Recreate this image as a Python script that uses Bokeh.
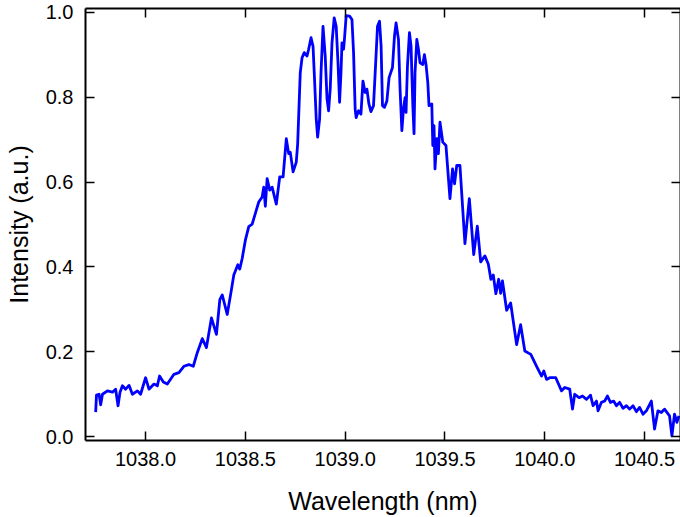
from bokeh.plotting import figure
from bokeh.models import Range1d, LinearAxis, FixedTicker, NumeralTickFormatter
from bokeh.embed import file_html
from bokeh.resources import INLINE

# spectrum
wavelength = [
    1037.750, 1037.754, 1037.767, 1037.775, 1037.784, 1037.809, 1037.834, 1037.850,
    1037.862, 1037.872, 1037.884, 1037.900, 1037.917, 1037.934, 1037.959, 1037.975,
    1038.000, 1038.017, 1038.042, 1038.059, 1038.070, 1038.089, 1038.109, 1038.142,
    1038.167, 1038.192, 1038.217, 1038.239, 1038.259, 1038.284, 1038.305, 1038.330,
    1038.355, 1038.372, 1038.384, 1038.409, 1038.430, 1038.442, 1038.462, 1038.472,
    1038.484, 1038.500, 1038.517, 1038.534, 1038.550, 1038.567, 1038.584, 1038.592,
    1038.600, 1038.609, 1038.622, 1038.634, 1038.655, 1038.672, 1038.689, 1038.705,
    1038.717, 1038.725, 1038.739, 1038.755, 1038.762, 1038.775, 1038.784, 1038.795,
    1038.809, 1038.817, 1038.829, 1038.839, 1038.845, 1038.855, 1038.862, 1038.872,
    1038.879, 1038.889, 1038.900, 1038.909, 1038.917, 1038.925, 1038.934, 1038.945,
    1038.955, 1038.964, 1038.972, 1038.979, 1038.984, 1038.992, 1038.997, 1039.005,
    1039.022, 1039.034, 1039.042, 1039.050, 1039.055, 1039.067, 1039.079, 1039.089,
    1039.100, 1039.109, 1039.119, 1039.129, 1039.142, 1039.152, 1039.162, 1039.172,
    1039.180, 1039.187, 1039.197, 1039.209, 1039.220, 1039.237, 1039.247, 1039.255,
    1039.267, 1039.275, 1039.284, 1039.292, 1039.300, 1039.305, 1039.312, 1039.322,
    1039.330, 1039.339, 1039.345, 1039.350, 1039.359, 1039.367, 1039.375, 1039.389,
    1039.397, 1039.405, 1039.414, 1039.420, 1039.434, 1039.439, 1039.445, 1039.450,
    1039.459, 1039.467, 1039.475, 1039.489, 1039.505, 1039.525, 1039.538, 1039.548,
    1039.559, 1039.575, 1039.600, 1039.622, 1039.644, 1039.662, 1039.679, 1039.700,
    1039.717, 1039.730, 1039.742, 1039.755, 1039.769, 1039.779, 1039.788, 1039.809,
    1039.829, 1039.859, 1039.879, 1039.900, 1039.930, 1039.959, 1039.984, 1039.995,
    1040.009, 1040.025, 1040.055, 1040.084, 1040.100, 1040.125, 1040.139, 1040.150,
    1040.172, 1040.189, 1040.209, 1040.229, 1040.242, 1040.259, 1040.267, 1040.284,
    1040.300, 1040.314, 1040.329, 1040.345, 1040.359, 1040.375, 1040.392, 1040.409,
    1040.425, 1040.442, 1040.459, 1040.475, 1040.492, 1040.509, 1040.534, 1040.550,
    1040.567, 1040.584, 1040.600, 1040.625, 1040.637, 1040.650, 1040.662, 1040.672,
]
intensity = [
    0.058, 0.098, 0.100, 0.075, 0.100, 0.108, 0.105, 0.112,
    0.073, 0.105, 0.120, 0.112, 0.121, 0.100, 0.108, 0.100,
    0.139, 0.112, 0.124, 0.120, 0.143, 0.129, 0.124, 0.147,
    0.151, 0.166, 0.170, 0.166, 0.198, 0.231, 0.210, 0.280,
    0.241, 0.323, 0.334, 0.288, 0.346, 0.381, 0.405, 0.395,
    0.420, 0.463, 0.495, 0.501, 0.526, 0.553, 0.565, 0.588,
    0.543, 0.608, 0.581, 0.588, 0.548, 0.612, 0.612, 0.702,
    0.667, 0.670, 0.624, 0.647, 0.690, 0.858, 0.893, 0.905,
    0.897, 0.913, 0.940, 0.920, 0.858, 0.749, 0.706, 0.749,
    0.858, 0.967, 0.897, 0.796, 0.768, 0.819, 0.928, 0.987,
    0.967, 0.881, 0.788, 0.858, 0.928, 0.913, 0.940, 0.992,
    0.991, 0.983, 0.905, 0.772, 0.752, 0.768, 0.760, 0.838,
    0.811, 0.819, 0.784, 0.766, 0.780, 0.873, 0.967, 0.979,
    0.920, 0.780, 0.776, 0.791, 0.846, 0.870, 0.944, 0.975,
    0.936, 0.819, 0.721, 0.772, 0.799, 0.764, 0.873, 0.952,
    0.920, 0.780, 0.714, 0.858, 0.936, 0.913, 0.881, 0.877,
    0.900, 0.877, 0.834, 0.780, 0.784, 0.686, 0.733, 0.631,
    0.702, 0.667, 0.741, 0.694, 0.686, 0.561, 0.631, 0.596,
    0.639, 0.639, 0.455, 0.561, 0.429, 0.496, 0.412, 0.426,
    0.407, 0.371, 0.381, 0.337, 0.371, 0.338, 0.367, 0.298,
    0.315, 0.217, 0.264, 0.202, 0.194, 0.166, 0.143, 0.155,
    0.135, 0.139, 0.139, 0.108, 0.116, 0.112, 0.065, 0.100,
    0.092, 0.096, 0.088, 0.098, 0.073, 0.084, 0.061, 0.081,
    0.084, 0.096, 0.081, 0.084, 0.073, 0.081, 0.067, 0.073,
    0.065, 0.073, 0.059, 0.069, 0.053, 0.061, 0.084, 0.018,
    0.061, 0.057, 0.065, 0.049, 0.002, 0.053, 0.034, 0.049,
]
x_ticks = [1038.0, 1038.5, 1039.0, 1039.5, 1040.0, 1040.5]
y_ticks = [0.0, 0.2, 0.4, 0.6, 0.8, 1.0]

FONT = "Liberation Sans"

p = figure(width=680, height=517, output_backend="svg", toolbar_location=None,
           x_range=Range1d(1037.699, 1040.680), y_range=Range1d(-0.0089, 1.0089),
           min_border_left=85, min_border_right=0, min_border_top=8, min_border_bottom=75)
p.outline_line_color = None
p.grid.visible = False
p.background_fill_color = "white"

p.line(wavelength, intensity, line_color="#0000ff", line_width=2.8, line_join="round")

bottom = p.xaxis[0]
left = p.yaxis[0]

# frame on the other two sides, ticks only
top = LinearAxis()
right = LinearAxis()
p.add_layout(top, "above")
p.add_layout(right, "right")

for ax in [bottom, top]:
    ax.ticker = FixedTicker(ticks=x_ticks)
for ax in [left, right]:
    ax.ticker = FixedTicker(ticks=y_ticks)

for ax in [bottom, top, left, right]:
    ax.formatter = NumeralTickFormatter(format="0.0")
    ax.axis_line_width = 2
    ax.axis_line_color = "black"
    ax.major_tick_in = 9
    ax.major_tick_out = 0
    ax.major_tick_line_width = 1.5
    ax.major_tick_line_color = "black"
    ax.minor_tick_line_color = None
    ax.major_label_text_font = FONT
    ax.major_label_text_font_size = "20px"
    ax.major_label_text_color = "black"
    ax.axis_label_text_font = FONT
    ax.axis_label_text_font_size = "25px"
    ax.axis_label_text_font_style = "normal"
    ax.axis_label_text_color = "black"

for ax in [top, right]:
    ax.major_label_text_font_size = "0px"
    ax.major_label_text_color = None
    ax.major_label_standoff = 0

bottom.axis_label = "Wavelength (nm)"
bottom.major_label_standoff = 11
bottom.axis_label_standoff = 18
bottom.axis_label_text_line_height = 0.9
left.axis_label = "Intensity (a.u.)"
left.major_label_standoff = 12
left.axis_label_standoff = 10

open("out.html", "w").write(file_html(p, INLINE))
